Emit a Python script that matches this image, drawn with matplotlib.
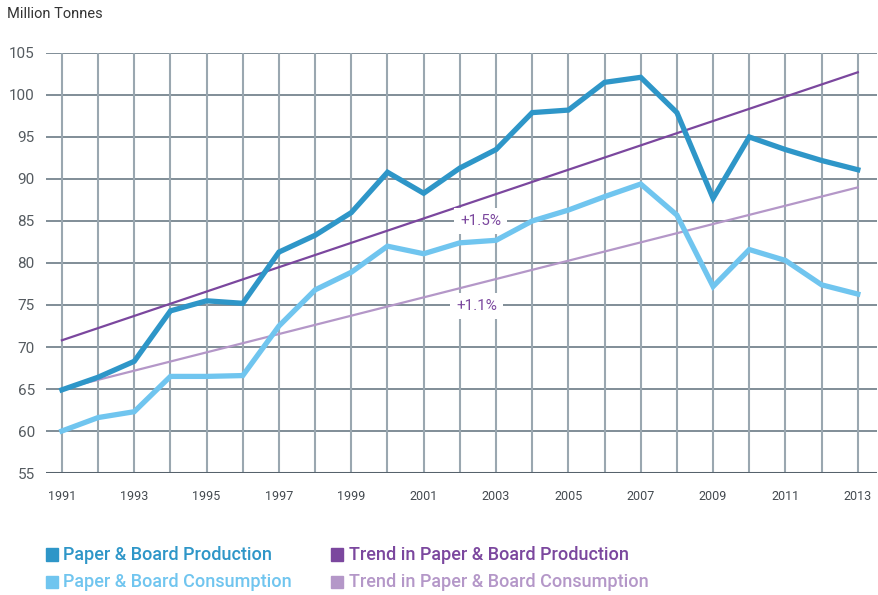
import numpy as np
import matplotlib.pyplot as plt

plt.rcParams['font.family'] = ['Roboto', 'DejaVu Sans']

years = list(range(1991, 2014))
production = [64.9, 66.4, 68.3, 74.3, 75.5, 75.2, 81.3, 83.3, 86.0, 90.8, 88.3, 91.3,
              93.5, 97.9, 98.2, 101.5, 102.1, 97.9, 87.7, 95.0, 93.5, 92.2, 91.1]
consumption = [60.0, 61.6, 62.3, 66.5, 66.5, 66.6, 72.5, 76.8, 78.9, 82.0, 81.1, 82.4,
               82.7, 85.0, 86.3, 87.9, 89.4, 85.7, 77.2, 81.6, 80.3, 77.4, 76.3]
trend_prod = [70.8, 102.7]
trend_cons = [65.0, 89.0]
trend_years = [1991, 2013]
yticks = [55, 60, 65, 70, 75, 80, 85, 90, 95, 100, 105]

c_prod = '#2e96c8'
c_cons = '#70c5ef'
c_tprod = '#7b479e'
c_tcons = '#b497c8'
c_grid = '#6b7a85'

fig = plt.figure(figsize=(8.79, 5.95), dpi=100)
ax = fig.add_axes([0.0523, 0.205, 0.9454, 0.706])
ax.set_xlim(1990.56, 2013.53)
ax.set_ylim(55, 105)

# grid
for y in yticks[1:]:
    ax.axhline(y, color=c_grid, lw=1.2, zorder=1)
for yr in years:
    ax.plot([yr, yr], [55, 105], color='#9aa7b0', lw=1.5, zorder=1,
            solid_capstyle='butt')
ax.axhline(55, color='#56626c', lw=2.2, zorder=2)

for s in ax.spines.values():
    s.set_visible(False)

ax.plot(trend_years, trend_cons, color=c_tcons, lw=1.6, zorder=3)
ax.plot(trend_years, trend_prod, color=c_tprod, lw=1.6, zorder=3)
ax.plot(years, consumption, color=c_cons, lw=3.8, zorder=4, solid_joinstyle='miter')
ax.plot(years, production, color=c_prod, lw=3.8, zorder=5, solid_joinstyle='miter')

# growth labels sit over the grid/trend lines but under the data lines
box = dict(boxstyle='square,pad=0.4', fc='white', ec='none')
ax.text(2002.58, 85.0, '+1.5%', color=c_tprod, fontsize=11, ha='center', va='center',
        bbox=box, zorder=3.5)
ax.text(2002.47, 74.9, '+1.1%', color=c_tprod, fontsize=11, ha='center', va='center',
        bbox=box, zorder=3.5)

ax.set_yticks(yticks)
ax.set_yticklabels([str(v) for v in yticks], fontsize=11, color='#555b60')
ax.set_xticks(years[::2])
ax.set_xticklabels([str(v) for v in years[::2]], fontsize=9, color='#444a50')
ax.tick_params(axis='both', length=0)
ax.tick_params(axis='y', pad=8)
ax.tick_params(axis='x', pad=12)

fig.text(0.008, 0.977, 'Million Tonnes', fontsize=10.5, color='#333', va='center')

# legend
leg = [(c_prod, 'Paper & Board Production', 0.052, 0.068),
       (c_cons, 'Paper & Board Consumption', 0.052, 0.022),
       (c_tprod, 'Trend in Paper & Board Production', 0.377, 0.068),
       (c_tcons, 'Trend in Paper & Board Consumption', 0.377, 0.022)]
for col, lab, x, y in leg:
    fig.patches.append(plt.Rectangle((x, y - 0.0105), 0.0137, 0.021, color=col,
                                     transform=fig.transFigure, figure=fig))
    fig.text(x + 0.02, y, lab, color=col, fontsize=13, fontweight='medium',
             va='center')

fig.savefig('out.png', dpi=100)
